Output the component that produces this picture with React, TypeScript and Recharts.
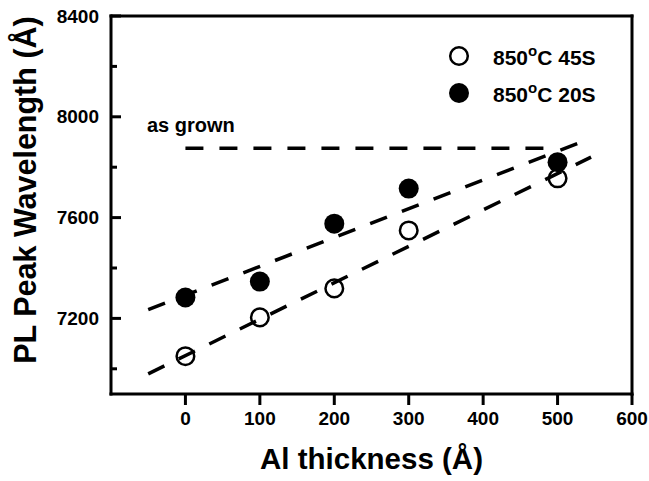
import { ScatterChart, Scatter, XAxis, YAxis, Legend } from 'recharts';

// Al cap thickness (Å) and measured PL peak wavelength (Å)
const thickness = [0, 100, 200, 300, 500];
const peak45s = [7050, 7204, 7319, 7549, 7756];
const peak20s = [7283, 7346, 7576, 7715, 7820];

// dashed guide lines (end points)
const fit45sX = [-50, 545];
const fit45sY = [6980, 7840];
const fit20sX = [-50, 545];
const fit20sY = [7235, 7915];
const asGrownX = [0, 500];
const asGrownY = [7875, 7875];

const xTicks = [0, 100, 200, 300, 400, 500, 600];
const yTicks = [7000, 7200, 7400, 7600, 7800, 8000, 8200, 8400];
const yLabeled = [7200, 7600, 8000, 8400];

const legendTemps = ['850', '850'];
const legendTimes = ['45S', '20S'];

const FONT = '"Liberation Sans", Arial, Helvetica, sans-serif';
const INK = '#000';

const toPoints = (xs: number[], ys: number[]) => xs.map((x, i) => ({ x, y: ys[i] }));

const dash = { stroke: INK, strokeWidth: 3.5, strokeDasharray: '18 16' };
const axisLine = { stroke: INK, strokeWidth: 3, strokeLinecap: 'square' as const };

const OpenDot = (p: any) => (
  <circle cx={p.cx} cy={p.cy} r={8.8} fill="none" stroke={INK} strokeWidth={2.5} />
);
const FilledDot = (p: any) => <circle cx={p.cx} cy={p.cy} r={10} fill={INK} />;
const NoDot = () => <g />;

const LeftTick = (p: any) => {
  const major = yLabeled.includes(p.payload.value);
  return (
    <g>
      <line x1={p.x} x2={p.x + (major ? 10 : 6)} y1={p.y} y2={p.y} stroke={INK} strokeWidth={3} />
      {major && (
        <text
          x={p.x - 12}
          y={p.y}
          textAnchor="end"
          dominantBaseline="central"
          fontFamily={FONT}
          fontWeight="bold"
          fontSize={19}
          fill={INK}
        >
          {p.payload.value}
        </text>
      )}
    </g>
  );
};

const RightTick = (p: any) => {
  const major = yLabeled.includes(p.payload.value);
  return <line x1={p.x} x2={p.x - (major ? 10 : 6)} y1={p.y} y2={p.y} stroke={INK} strokeWidth={3} />;
};

const TopTick = (p: any) => (
  <line x1={p.x} x2={p.x} y1={p.y} y2={p.y + 10} stroke={INK} strokeWidth={3} />
);

const YTitle = (p: any) => {
  const vb = p.viewBox;
  const cx = 36;
  const cy = vb.y + vb.height / 2 - 15;
  return (
    <text
      x={cx}
      y={cy}
      transform={`rotate(-90 ${cx} ${cy})`}
      textAnchor="middle"
      fontFamily={FONT}
      fontWeight="bold"
      fontSize={30.5}
      fill={INK}
    >
      PL Peak Wavelength (Å)
    </text>
  );
};

const LegendBox = () => (
  <div style={{ fontFamily: FONT, fontWeight: 'bold', fontSize: 21, color: INK }}>
    {legendTimes.map((t, i) => (
      <div key={t} style={{ display: 'flex', alignItems: 'center', height: 37 }}>
        <svg width={22} height={22} style={{ marginRight: 23 }}>
          {i === 0 ? (
            <circle cx={11} cy={11} r={8.8} fill="none" stroke={INK} strokeWidth={2.5} />
          ) : (
            <circle cx={11} cy={11} r={10} fill={INK} />
          )}
        </svg>
        <span>
          {legendTemps[i]}
          <span style={{ fontSize: 15, verticalAlign: 9 }}>o</span>C {t}
        </span>
      </div>
    ))}
  </div>
);

export default function App() {
  return (
    <div style={{ position: 'absolute', left: 0, top: 0, width: 649, height: 481, background: '#fff' }}>
      <ScatterChart width={649} height={481} margin={{ top: 15, right: 16, bottom: 0, left: 0 }}>
        <XAxis
          xAxisId="bottom"
          type="number"
          dataKey="x"
          domain={[-100, 600]}
          ticks={xTicks}
          height={87}
          stroke={INK}
          strokeWidth={3}
          axisLine={axisLine}
          tickLine={{ stroke: INK, strokeWidth: 3 }}
          tickSize={11}
          tickMargin={7}
          tick={{ fontFamily: FONT, fontWeight: 'bold', fontSize: 19, fill: INK }}
          label={{
            value: 'Al thickness (Å)',
            position: 'insideBottom',
            offset: 12,
            style: { fontFamily: FONT, fontWeight: 'bold', fontSize: 29.5, fill: INK },
          }}
        />
        <XAxis
          xAxisId="top"
          orientation="top"
          type="number"
          domain={[-100, 600]}
          ticks={xTicks}
          height={1}
          stroke={INK}
          strokeWidth={3}
          axisLine={axisLine}
          tickLine={false}
          tickSize={0}
          tickMargin={0}
          tick={TopTick}
        />
        <YAxis
          yAxisId="left"
          type="number"
          dataKey="y"
          domain={[6900, 8400]}
          ticks={yTicks}
          width={111}
          stroke={INK}
          strokeWidth={3}
          axisLine={axisLine}
          tickLine={false}
          tickSize={0}
          tickMargin={0}
          tick={LeftTick}
          label={YTitle}
        />
        <YAxis
          yAxisId="right"
          orientation="right"
          type="number"
          domain={[6900, 8400]}
          ticks={yTicks}
          width={1}
          stroke={INK}
          strokeWidth={3}
          axisLine={axisLine}
          tickLine={false}
          tickSize={0}
          tickMargin={0}
          tick={RightTick}
        />
        <Legend
          layout="horizontal"
          verticalAlign="middle"
          align="center"
          content={LegendBox}
          wrapperStyle={{ left: 448, top: 37, width: 195, height: 80 }}
        />
        <Scatter
          xAxisId="bottom"
          yAxisId="left"
          data={toPoints(asGrownX, asGrownY)}
          line={dash}
          shape={NoDot}
          legendType="none"
          isAnimationActive={false}
        />
        <Scatter
          xAxisId="bottom"
          yAxisId="left"
          data={toPoints(fit20sX, fit20sY)}
          line={dash}
          shape={NoDot}
          legendType="none"
          isAnimationActive={false}
        />
        <Scatter
          xAxisId="bottom"
          yAxisId="left"
          data={toPoints(fit45sX, fit45sY)}
          line={dash}
          shape={NoDot}
          legendType="none"
          isAnimationActive={false}
        />
        <Scatter
          name="850°C 45S"
          xAxisId="bottom"
          yAxisId="left"
          data={toPoints(thickness, peak45s)}
          shape={OpenDot}
          isAnimationActive={false}
        />
        <Scatter
          name="850°C 20S"
          xAxisId="bottom"
          yAxisId="left"
          data={toPoints(thickness, peak20s)}
          shape={FilledDot}
          isAnimationActive={false}
        />
      </ScatterChart>
      <div
        style={{
          position: 'absolute',
          left: 147,
          top: 115,
          fontFamily: FONT,
          fontWeight: 'bold',
          fontSize: 20,
          lineHeight: '20px',
          color: INK,
        }}
      >
        as grown
      </div>
    </div>
  );
}
